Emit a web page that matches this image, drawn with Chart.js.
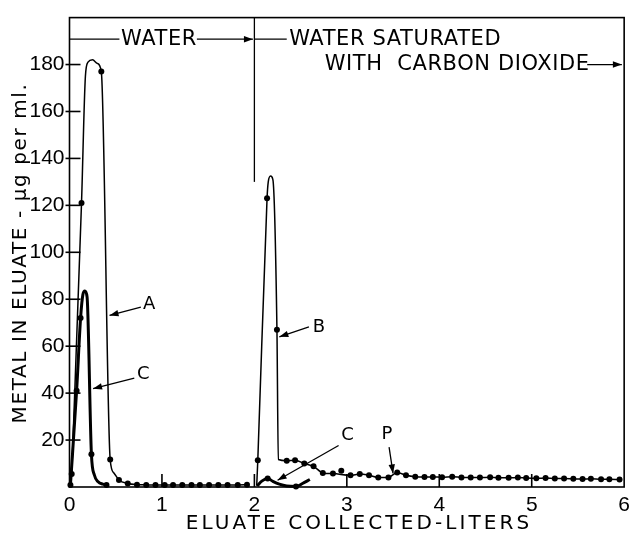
<!DOCTYPE html>
<html><head><meta charset="utf-8">
<script src="https://cdn.jsdelivr.net/npm/chart.js@4.4.0/dist/chart.umd.min.js"></script>
<style>html,body{margin:0;padding:0;background:#fff}#wrap{width:636px;height:539px;position:relative}</style>
</head><body><div id="wrap"><canvas id="c"></canvas></div>
<script>
// ---- axis tick labels ----
const xTickValues = [0, 1, 2, 3, 4, 5, 6];
const yTickValues = [20, 40, 60, 80, 100, 120, 140, 160, 180];

// ---- curve A (water eluate, thin) ----
const curveA_x = [0.024, 0.13, 0.172, 0.2, 0.25, 0.3, 0.344, 0.44, 0.48, 0.535, 0.63, 0.73, 0.83, 0.93, 1.03, 1.12, 1.22, 1.32, 1.41, 1.51, 1.61, 1.71, 1.82, 1.92];
const curveA_y = [5.5, 121, 175, 181, 182, 180.5, 177, 11.7, 6, 3.0, 1.5, 1.0, 0.9, 0.8, 0.8, 0.8, 0.8, 0.8, 0.8, 0.8, 0.8, 0.9, 0.9, 1.0];
const dotsA_x = [0.024, 0.13, 0.344, 0.44, 0.535, 0.63, 0.73, 0.83, 0.93, 1.03, 1.12, 1.22, 1.32, 1.41, 1.51, 1.61, 1.71, 1.82, 1.92];
const dotsA_y = [5.5, 121, 177, 11.7, 3.0, 1.5, 1.0, 0.9, 0.8, 0.8, 0.8, 0.8, 0.8, 0.8, 0.8, 0.8, 0.9, 0.9, 1.0];

// ---- curve B (CO2-saturated water, thin) ----
const curveB_x = [2.025, 2.037, 2.137, 2.15, 2.175, 2.2, 2.244, 2.259, 2.35, 2.44, 2.54, 2.64, 2.74, 2.85, 3.04, 3.14, 3.24, 3.34, 3.45, 3.545, 3.64, 3.74, 3.84, 3.93, 4.03, 4.14, 4.24, 4.34, 4.44, 4.55, 4.64, 4.75, 4.85, 4.94, 5.05, 5.15, 5.25, 5.35, 5.45, 5.55, 5.64, 5.75, 5.84, 5.95];
const curveB_y = [0.5, 11.4, 123, 130, 132.5, 131, 67, 11.7, 11.2, 11.4, 10, 8.8, 6, 5.7, 5, 5.5, 5, 4.1, 4.1, 6.2, 5, 4.4, 4.3, 4.3, 4.2, 4.4, 4.1, 4.0, 4.0, 4.2, 3.9, 3.9, 4.0, 3.8, 3.7, 3.8, 3.6, 3.6, 3.5, 3.4, 3.5, 3.3, 3.3, 3.2];
const dotsB_x = [2.037, 2.137, 2.244, 2.35, 2.44, 2.54, 2.64, 2.74, 2.85, 2.94, 3.04, 3.14, 3.24, 3.34, 3.45, 3.545, 3.64, 3.74, 3.84, 3.93, 4.03, 4.14, 4.24, 4.34, 4.44, 4.55, 4.64, 4.75, 4.85, 4.94, 5.05, 5.15, 5.25, 5.35, 5.45, 5.55, 5.64, 5.75, 5.84, 5.95];
const dotsB_y = [11.4, 123, 67, 11.2, 11.4, 10, 8.8, 6, 5.7, 6.9, 5, 5.5, 5, 4.1, 4.1, 6.2, 5, 4.4, 4.3, 4.3, 4.2, 4.4, 4.1, 4.0, 4.0, 4.2, 3.9, 3.9, 4.0, 3.8, 3.7, 3.8, 3.6, 3.6, 3.5, 3.4, 3.5, 3.3, 3.3, 3.2];

// ---- curve C (thick), first peak (water) ----
const curveC1_x = [0.01, 0.077, 0.12, 0.145, 0.166, 0.19, 0.237, 0.27, 0.31, 0.36, 0.4];
const curveC1_y = [0.8, 41, 72, 82, 83.5, 81, 14, 5, 2.2, 1.2, 0.8];
const dotsC1_x = [0.01, 0.077, 0.12, 0.237, 0.4];
const dotsC1_y = [0.8, 41, 72, 14, 0.8];

// ---- curve C (thick), second part (CO2 water) ----
const curveC2_x = [2.03, 2.08, 2.144, 2.2, 2.27, 2.35, 2.45, 2.52, 2.6];
const curveC2_y = [0.5, 2.5, 3.6, 2.4, 1.2, 0.4, 0.2, 1.5, 3.2];
const dotsC2_x = [2.144, 2.45];
const dotsC2_y = [3.6, 0.2];

const pts = (xs, ys) => xs.map((v, i) => ({x: v, y: ys[i]}));

const FONT = "'DejaVu Sans', sans-serif";

function arrow(ctx, x1, y1, x2, y2) {
  ctx.beginPath(); ctx.moveTo(x1, y1); ctx.lineTo(x2, y2); ctx.stroke();
  const a = Math.atan2(y2 - y1, x2 - x1), L = 9, W = 3.2;
  ctx.beginPath();
  ctx.moveTo(x2, y2);
  ctx.lineTo(x2 - L * Math.cos(a) + W * Math.sin(a), y2 - L * Math.sin(a) - W * Math.cos(a));
  ctx.lineTo(x2 - L * Math.cos(a) - W * Math.sin(a), y2 - L * Math.sin(a) + W * Math.cos(a));
  ctx.closePath(); ctx.fill();
}
function seg(ctx, x1, y1, x2, y2) { ctx.beginPath(); ctx.moveTo(x1, y1); ctx.lineTo(x2, y2); ctx.stroke(); }

const decor = {
  id: 'decor',
  beforeDraw(chart) {
    const ctx = chart.ctx; ctx.save(); ctx.fillStyle = '#fff'; ctx.fillRect(0, 0, chart.width, chart.height); ctx.restore();
  },
  afterDraw(chart) {
    const {ctx, chartArea: ca, scales: {x, y}} = chart;
    const X = v => x.getPixelForValue(v), Y = v => y.getPixelForValue(v);
    ctx.save();
    ctx.strokeStyle = '#000'; ctx.fillStyle = '#000'; ctx.lineWidth = 1.6;
    ctx.strokeRect(ca.left, ca.top, ca.right - ca.left, ca.bottom - ca.top);
    // inward/crossing ticks
    yTickValues.forEach(v => seg(ctx, ca.left - 4, Y(v), ca.left + 11, Y(v)));
    xTickValues.forEach(v => { if (v > 0 && v < 6) seg(ctx, X(v), ca.bottom, X(v), ca.bottom - 13); });
    ctx.lineWidth = 1.3;
    // top header: WATER
    const yh = Y(190.8);
    seg(ctx, X(0), yh, X(0.54), yh);
    arrow(ctx, X(1.378), yh, X(1.984), yh);
    seg(ctx, X(2.0), Y(200), X(2.0), Y(130));
    seg(ctx, X(2.0), yh, X(2.35), yh);
    ctx.font = '21px ' + FONT; ctx.textBaseline = 'middle'; ctx.letterSpacing = '0.6px';
    ctx.textAlign = 'center'; ctx.fillText('WATER', X(0.968), yh);
    ctx.textAlign = 'left'; ctx.fillText('WATER SATURATED', X(2.376), yh);
    const yh2 = Y(180.0);
    ctx.fillText('WITH  CARBON DIOXIDE', X(2.76), yh2);
    arrow(ctx, X(5.6), yh2, X(5.975), yh2);
    ctx.letterSpacing = '0px';
    // curve labels
    ctx.font = '18px ' + FONT; ctx.textAlign = 'center';
    ctx.fillText('A', X(0.861), Y(78.0)); arrow(ctx, X(0.772), Y(76.6), X(0.433), Y(73.1));
    ctx.fillText('C', X(0.797), Y(47.9)); arrow(ctx, X(0.701), Y(46.4), X(0.255), Y(41.9));
    ctx.fillText('B', X(2.697), Y(68.2)); arrow(ctx, X(2.59), Y(68.2), X(2.27), Y(64));
    ctx.fillText('C', X(3.007), Y(21.9)); arrow(ctx, X(2.911), Y(17.7), X(2.251), Y(2.9));
    ctx.fillText('P', X(3.435), Y(22.6)); arrow(ctx, X(3.457), Y(17.0), X(3.5), Y(5.8));
    // axis titles
    ctx.font = '20px ' + FONT; ctx.letterSpacing = '3.1px';
    ctx.textAlign = 'center';
    ctx.fillText('ELUATE COLLECTED-LITERS', 359, 524);
    ctx.save();
    ctx.translate(21, 253); ctx.rotate(-Math.PI / 2);
    ctx.font = '20px ' + FONT; ctx.letterSpacing = '1.6px';
    ctx.fillText('METAL IN ELUATE - \u03bcg per ml.', 0, 0);
    ctx.restore();
    ctx.restore();
  }
};

const lineDs = (data, w) => ({data, borderColor: '#000', borderWidth: w, pointRadius: 0, cubicInterpolationMode: 'monotone', fill: false, clip: false});
const dotDs = (data) => ({data, showLine: false, pointRadius: 3, pointBackgroundColor: '#000', pointBorderColor: '#000', pointBorderWidth: 0, clip: false});

new Chart(document.getElementById('c'), {
  type: 'line',
  data: {
    datasets: [
      lineDs(pts(curveA_x, curveA_y), 1.5), dotDs(pts(dotsA_x, dotsA_y)),
      lineDs(pts(curveB_x, curveB_y), 1.5), dotDs(pts(dotsB_x, dotsB_y)),
      lineDs(pts(curveC1_x, curveC1_y), 3), dotDs(pts(dotsC1_x, dotsC1_y)),
      lineDs(pts(curveC2_x, curveC2_y), 3), dotDs(pts(dotsC2_x, dotsC2_y))
    ]
  },
  options: {
    responsive: true, maintainAspectRatio: false, animation: false,
    devicePixelRatio: 1,
    layout: {padding: {left: 0, right: 5.5, top: 11.5, bottom: 0}},
    plugins: {legend: {display: false}, tooltip: {enabled: false}},
    scales: {
      x: {
        type: 'linear', min: 0, max: 6,
        grid: {display: false, drawTicks: false}, border: {display: false},
        afterFit: s => { s.height = 52; },
        ticks: {stepSize: 1, padding: 6, color: '#000', maxRotation: 0,
          font: {family: "'Liberation Sans', sans-serif", size: 21},
          callback: v => xTickValues.includes(v) ? String(v) : ''}
      },
      y: {
        type: 'linear', min: 0, max: 200,
        grid: {display: false, drawTicks: false}, border: {display: false},
        afterFit: s => { s.width = 69.5; },
        ticks: {stepSize: 20, padding: 5, color: '#000',
          font: {family: "'Liberation Sans', sans-serif", size: 21},
          callback: v => yTickValues.includes(v) ? String(v) : ''}
      }
    }
  },
  plugins: [decor]
});
</script>
</body></html>
